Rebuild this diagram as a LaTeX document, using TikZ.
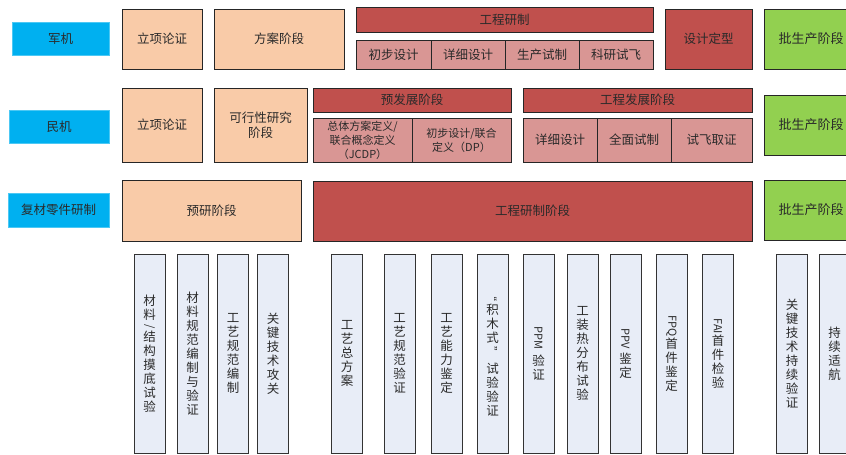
\documentclass[tikz,border=0pt]{standalone}
\usepackage{fontspec}
\setmainfont{Noto Sans CJK SC}
\usepackage{graphicx}
\definecolor{cblue}{HTML}{00B0F0}
\definecolor{cpeach}{HTML}{F9CBA8}
\definecolor{cred}{HTML}{C0504D}
\definecolor{cpink}{HTML}{D99694}
\definecolor{cgreen}{HTML}{92D050}
\definecolor{ccol}{HTML}{E8EDF7}
\definecolor{txt}{HTML}{2A2A2A}
\newcommand\bx[6]{\node[#1, minimum width=#4pt, minimum height=#5pt] (#2) at (#3) {#6};}
\newcommand\vcol[3]{\node[colbox, minimum width=31pt, minimum height=199pt] (#1) at (#2,353.5) {#3};}
\newcommand\rot[1]{\rotatebox[origin=c]{-90}{\fontsize{11}{12}\selectfont #1}}
\begin{document}
\begin{tikzpicture}[x=1pt,y=-1pt,
  every node/.style={inner sep=0pt, outer sep=0pt, text=txt, font=\fontsize{12.5}{15}\selectfont},
  lab/.style={fill=cblue, draw=cblue!70!white, line width=0.4pt, font=\fontsize{12.5}{15}\selectfont},
  base/.style={draw=black!85, line width=0.8pt, align=center},
  peach/.style={base, fill=cpeach},
  redbox/.style={base, fill=cred},
  pinkbox/.style={base, fill=cpink},
  small/.style={font=\fontsize{11}{14}\selectfont},
  greenbox/.style={base, fill=cgreen, font=\fontsize{13}{15}\selectfont},
  colbox/.style={draw=black!80, line width=0.8pt, fill=ccol, align=center, font=\fontsize{12.5}{14}\selectfont}]
\useasboundingbox (0,0) rectangle (846,455);
\clip (0,0) rectangle (846,455);
% labels
\bx{lab}{lab1}{60.5,38.5}{97}{33}{军机}
\bx{lab}{lab2}{59,126.5}{100}{33}{民机}
\bx{lab}{lab3}{58.5,210}{101}{34}{复材零件研制}
% row 1
\bx{peach}{a1}{162,39}{80}{60}{立项论证}
\bx{peach}{a2}{279,39}{130}{60}{方案阶段}
\bx{redbox}{a3}{504.5,19.5}{297}{25}{工程研制}
\bx{pinkbox}{a4}{393.5,54.5}{75}{29}{初步设计}
\bx{pinkbox}{a5}{468,54.5}{74}{29}{详细设计}
\bx{pinkbox}{a6}{542,54.5}{74}{29}{生产试制}
\bx{pinkbox}{a7}{616,54.5}{74}{29}{科研试飞}
\bx{redbox}{a8}{708.5,39}{87}{60}{设计定型}
\bx{greenbox}{a9}{811,39}{94}{60}{批生产阶段}
% row 2
\bx{peach}{b1}{162,125}{80}{74}{立项论证}
\bx{peach}{b2}{260.5,125}{93}{74}{可行性研究\\阶段}
\bx{redbox}{b3}{412,100}{198}{24}{预发展阶段}
\bx{pinkbox,small}{b4}{362.5,140}{99}{44}{总体方案定义/\\联合概念定义\\（JCDP）}
\bx{pinkbox,small}{b5}{461.5,140}{99}{44}{初步设计/联合\\定义（DP）}
\bx{redbox}{b6}{637.5,100}{229}{24}{工程发展阶段}
\bx{pinkbox}{b7}{560,140}{74}{44}{详细设计}
\bx{pinkbox}{b8}{634,140}{74}{44}{全面试制}
\bx{pinkbox}{b9}{711.5,140}{81}{44}{试飞取证}
\bx{greenbox}{b10}{811,125}{94}{60}{批生产阶段}
% row 3
\bx{peach}{c1}{211.5,210.5}{179}{61}{预研阶段}
\bx{redbox}{c2}{532.5,211}{439}{60}{工程研制阶段}
\bx{greenbox}{c3}{811,210}{94}{60}{批生产阶段}
% columns
\vcol{d1}{149.5}{材\\料\\[-3pt]\rot{/}\\[-3pt]结\\构\\摸\\底\\试\\验}
\vcol{d2}{192.5}{材\\料\\规\\范\\编\\制\\与\\验\\证}
\vcol{d3}{233}{工\\艺\\规\\范\\编\\制}
\vcol{d4}{273}{关\\键\\技\\术\\攻\\关}
\vcol{d5}{347}{工\\艺\\总\\方\\案}
\vcol{d6}{399.5}{工\\艺\\规\\范\\验\\证}
\vcol{d7}{446.5}{工\\艺\\能\\力\\鉴\\定}
\vcol{d8}{492.5}{\rot{“}\\积\\木\\式\\\rot{”}\\[3pt]试\\验\\验\\证}
\vcol{d9}{538.5}{\rot{PPM}\\[4pt]验\\证}
\vcol{d10}{582.5}{工\\装\\热\\分\\布\\试\\验}
\vcol{d11}{625.5}{\rot{PPV}\\[4pt]鉴\\定}
\vcol{d12}{671.5}{\rot{FPQ}\\首\\件\\鉴\\定}
\vcol{d13}{718}{\rot{FAI}\\首\\件\\检\\验}
\vcol{d14}{792}{关\\键\\技\\术\\持\\续\\验\\证}
\vcol{d15}{834.5}{持\\续\\适\\航}
\end{tikzpicture}
\end{document}
